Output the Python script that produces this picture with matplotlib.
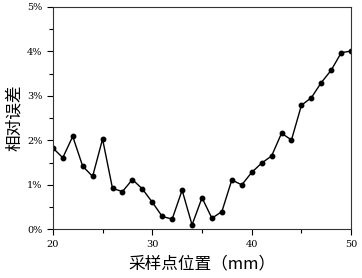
import numpy as np
import matplotlib
matplotlib.use("Agg")
import matplotlib.pyplot as plt
from matplotlib.ticker import MultipleLocator, FuncFormatter

# 数据
position = list(range(20, 51))
error_pct = [1.83, 1.61, 2.09, 1.42, 1.19, 2.03, 0.92, 0.85, 1.12, 0.91,
             0.61, 0.29, 0.23, 0.88, 0.10, 0.71, 0.25, 0.40, 1.11, 1.00,
             1.28, 1.49, 1.65, 2.16, 2.01, 2.79, 2.96, 3.30, 3.58, 3.97, 4.01]

fig = plt.figure(figsize=(3.62, 2.78), dpi=100)
ax = fig.add_axes([0.146, 0.175, 0.824, 0.80])

ax.plot(position, error_pct, color='black', linewidth=1.0,
        marker='o', markersize=3.2)

ax.set_xlim(20, 50)
ax.set_ylim(0, 5)
ax.xaxis.set_major_locator(MultipleLocator(10))
ax.xaxis.set_minor_locator(MultipleLocator(5))
ax.yaxis.set_major_locator(MultipleLocator(1))
ax.yaxis.set_minor_locator(MultipleLocator(0.5))
ax.yaxis.set_major_formatter(FuncFormatter(lambda v, p: '%d%%' % round(v)))

ax.tick_params(which='both', direction='out', top=False, right=False,
               labelsize=7, width=0.8)
ax.tick_params(which='major', length=4)
ax.tick_params(which='minor', length=3)
for lab in ax.get_xticklabels() + ax.get_yticklabels():
    lab.set_family('DejaVu Serif')
for s in ax.spines.values():
    s.set_linewidth(0.8)
    s.set_color('#333333')

ax.set_xlabel('采样点位置（mm）', family=['Noto Sans CJK SC', 'DejaVu Sans'],
              fontsize=12, labelpad=5)
ax.set_ylabel('相对误差', family=['Noto Sans CJK SC', 'DejaVu Sans'],
              fontsize=12, labelpad=3)

fig.savefig('out.png', dpi=100)
